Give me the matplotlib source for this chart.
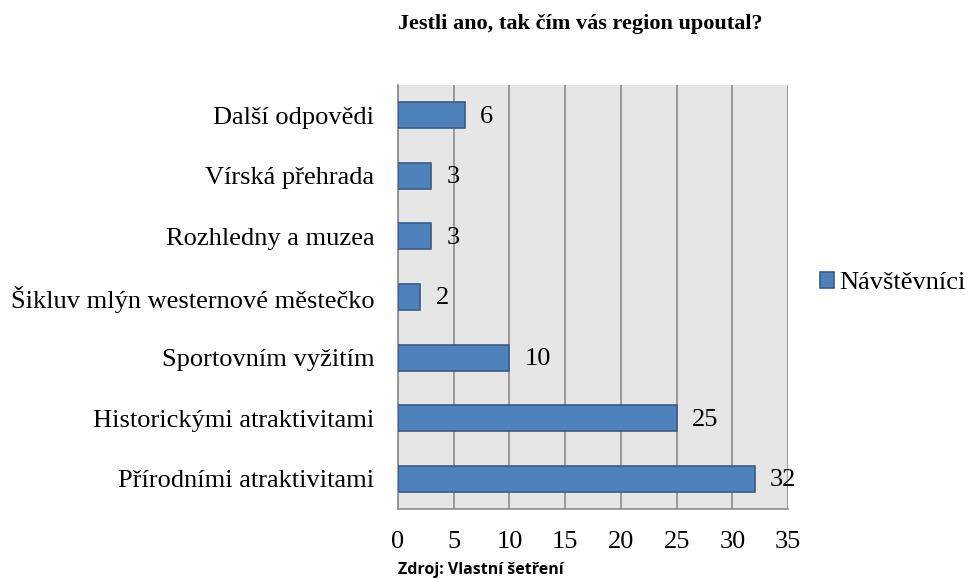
import matplotlib
matplotlib.use("Agg")
import matplotlib.pyplot as plt

categories = ["Přírodními atraktivitami", "Historickými atraktivitami", "Sportovním vyžitím",
              "Šikluv mlýn westernové městečko", "Rozhledny a muzea", "Vírská přehrada", "Další odpovědi"]
values = [32, 25, 10, 2, 3, 3, 6]
xticks = [0, 5, 10, 15, 20, 25, 30, 35]
series_name = "Návštěvníci"

plt.rcParams['font.family'] = ['Liberation Serif', 'DejaVu Serif']
FS = 19

fig = plt.figure(figsize=(9.68, 5.79), dpi=100)
ax = fig.add_axes([0.4112, 0.1209, 0.4029, 0.7323])
ax.set_facecolor('#e6e6e6')
ys = range(len(categories))
bars = ax.barh(ys, values, height=0.43, color='#4F81BD', edgecolor='#385D8A', linewidth=1.2,
               label=series_name, zorder=3)
for y, v in zip(ys, values):
    ax.annotate(str(v), xy=(v, y), xytext=(11, -1), textcoords='offset points',
                va='center', ha='left', fontsize=FS, zorder=4)
ax.set_xlim(0, 35)
ax.set_ylim(-0.5, len(categories) - 0.5)
ax.set_xticks(xticks)
ax.set_xticklabels([str(t) for t in xticks], fontsize=FS)
ax.set_yticks(list(ys))
ax.set_yticklabels(categories, fontsize=FS)
ax.tick_params(axis='x', length=0, pad=16)
ax.tick_params(axis='y', length=0, pad=17)
ax.grid(axis='x', color='#8c8c8c', linewidth=1.2, zorder=1)
for s in ['top', 'right']:
    ax.spines[s].set_visible(False)
for s in ['left', 'bottom']:
    ax.spines[s].set_color('#8c8c8c')
    ax.spines[s].set_linewidth(1.2)

leg = fig.legend(handles=[bars], labels=[series_name], loc='center left',
                 bbox_to_anchor=(0.847, 0.511), frameon=False, fontsize=FS,
                 handlelength=0.55, handleheight=0.55, handletextpad=0.2,
                 borderpad=0, borderaxespad=0)

fig.text(0.5995, 0.9585, "Jestli ano, tak čím vás region upoutal?", ha='center', va='center',
         fontsize=16, fontweight='bold')
fig.text(0.4112, 0.016, "Zdroj: Vlastní šetření", ha='left', va='center',
         fontsize=11.5, fontweight='bold', family=['Open Sans', 'DejaVu Sans'])

fig.savefig("out.png", dpi=100)
